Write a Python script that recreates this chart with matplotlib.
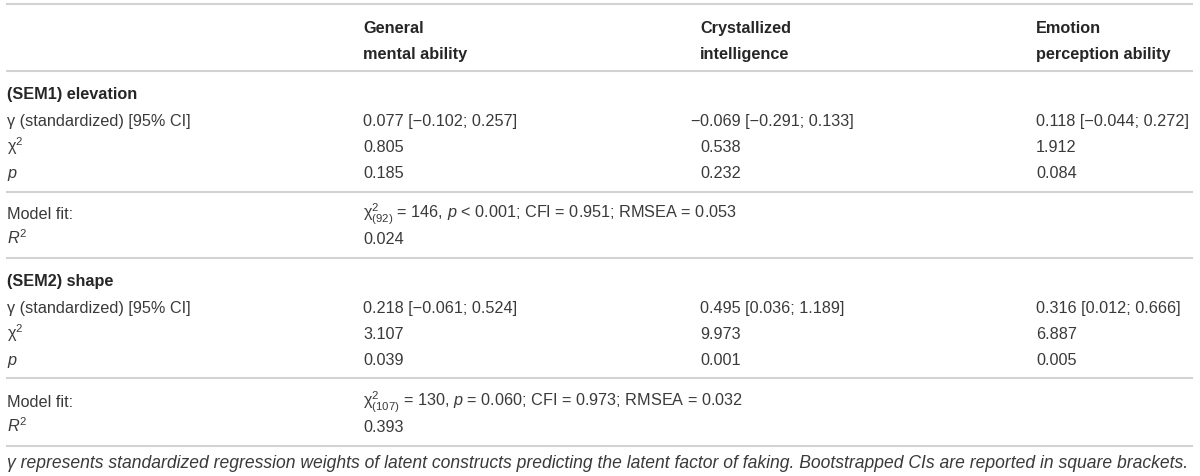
import matplotlib
matplotlib.use("Agg")
import matplotlib.pyplot as plt

# ---- data ----
col_headers = ["General\nmental ability", "Crystallized\nintelligence", "Emotion\nperception ability"]
sections = ["(SEM1) elevation", "(SEM2) shape"]
row_labels = ["γ (standardized) [95% CI]", "χ2", "p"]
sem1_gamma = ["0.077 [\u22120.102; 0.257]", "\u22120.069 [\u22120.291; 0.133]", "0.118 [\u22120.044; 0.272]"]
sem1_chi2 = ["0.805", "0.538", "1.912"]
sem1_p = ["0.185", "0.232", "0.084"]
sem1_fit = ["92", "146", "< 0.001", "0.951", "0.053"]
sem1_r2 = "0.024"
sem2_gamma = ["0.218 [\u22120.061; 0.524]", "0.495 [0.036; 1.189]", "0.316 [0.012; 0.666]"]
sem2_chi2 = ["3.107", "9.973", "6.887"]
sem2_p = ["0.039", "0.001", "0.005"]
sem2_fit = ["107", "130", "= 0.060", "0.973", "0.032"]
sem2_r2 = "0.393"
footnote = ("γ represents standardized regression weights of latent constructs predicting the latent factor "
            "of faking. Bootstrapped CIs are reported in square brackets.")

# ---- style ----
plt.rcParams['mathtext.fontset'] = 'custom'
plt.rcParams['mathtext.rm'] = 'Liberation Sans'
plt.rcParams['mathtext.it'] = 'Liberation Sans:italic'
FAM = 'Liberation Sans'
TXT = '#3a3a3a'
HDR = '#262626'
LINE = '#d2d2d2'
FS = 11.7
BL = 6  # baseline offset below the visual centre of a row

fig = plt.figure(figsize=(12, 4.77), dpi=100)
ax = fig.add_axes([0, 0, 1, 1])
ax.set_xlim(0, 1200)
ax.set_ylim(477, 0)
ax.axis('off')

X0 = 7
XC = [363, 700, 1036]


def t(x, y, s, ha='left', **kw):
    kw.setdefault('fontsize', FS)
    kw.setdefault('color', TXT)
    kw.setdefault('family', FAM)
    return ax.text(x, y + BL, s, va='baseline', ha=ha, **kw)


def hline(y):
    ax.plot([6, 1193], [y, y], color=LINE, lw=1.5, solid_capstyle='butt')


for y in [5, 72, 193, 259, 379, 447]:
    hline(y)

# header
for x, h in zip(XC, col_headers):
    a, b = h.split("\n")
    t(x, 27, a, fontweight='bold', color=HDR)
    t(x, 53, b, fontweight='bold', color=HDR)


def block(y0, title, gam, chi, pv):
    t(X0, y0, title, fontweight='bold', color=HDR)
    ys = [y0 + 27, y0 + 53, y0 + 79]
    t(X0, ys[0], row_labels[0])
    t(X0, ys[1], r'$\mathrm{χ}^{2}$')
    t(X0, ys[2], r'$p$')
    for i in range(3):
        g = gam[i]
        if g.startswith('\u2212'):
            # minus sign hangs to the left of the column
            t(XC[i], ys[0], g[0], ha='right')
            t(XC[i], ys[0], g[1:])
        else:
            t(XC[i], ys[0], g)
        t(XC[i], ys[1], chi[i])
        t(XC[i], ys[2], pv[i])


def fitblock(y0, fit, r2):
    t(X0, y0, "Model fit:")
    df, chi, pstr, cfi, rmsea = fit
    op, val = pstr.split(' ')
    s = (r'$\mathrm{χ}^{2}_{(' + df + r')}$' + f' = {chi}, ' + r'$p$' + f' {op} {val}' +
         f'; CFI = {cfi}; RMSEA = {rmsea}')
    t(XC[0], y0, s)
    t(X0, y0 + 25, r'$R^{2}$')
    t(XC[0], y0 + 25, r2)


block(93, sections[0], sem1_gamma, sem1_chi2, sem1_p)
fitblock(213, sem1_fit, sem1_r2)
block(280, sections[1], sem2_gamma, sem2_chi2, sem2_p)
fitblock(401, sem2_fit, sem2_r2)

t(X0, 462, footnote, style='italic', fontsize=12.65)

fig.savefig("out.png", dpi=100)
